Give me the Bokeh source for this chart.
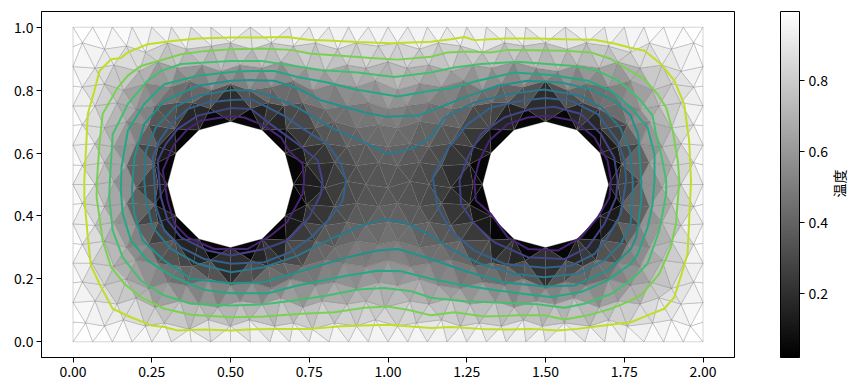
import numpy as np
from bokeh.plotting import figure
from bokeh.layouts import row
from bokeh.models import ColumnDataSource, LinearColorMapper, ColorBar, FixedTicker, NumeralTickFormatter, Label, Range1d
from bokeh.palettes import Greys256
from bokeh.embed import file_html
from bokeh.resources import INLINE

# outer boundary nodes (temperature 1 on the outer wall)
edge_x = [0,.0625,.125,.1875,.25,.3125,.375,.4375,.5,.5625,.625,.6875,.75,.8125,.875,.9375,1,1.0625,1.125,1.1875,1.25,1.3125,1.375,1.4375,1.5,1.5625,1.625,1.6875,1.75,1.8125,1.875,1.9375,2]
side_y = [.0625,.125,.1875,.25,.3125,.375,.4375,.5,.5625,.625,.6875,.75,.8125,.875,.9375]
# hole nodes (temperature 0 on the hole wall)
hole_cx = [.5, 1.5]
hole_cy = .5
hole_r = .2
hole_dx = [0,.1,.1732,.2,.1732,.1,0,-.1,-.1732,-.2,-.1732,-.1]
hole_dy = [.2,.1732,.1,0,-.1,-.1732,-.2,-.1732,-.1,0,.1,.1732]
# dark ring of nodes round each hole
ring_dx = [.2415,.1768,.0647,-.0647,-.1768,-.2415,-.2415,-.1768,-.0647,.0647,.1768,.2415]
ring_dy = [.0647,.1768,.2415,.2415,.1768,.0647,-.0647,-.1768,-.2415,-.2415,-.1768,-.0647]
ring_t = [.13,.14,.15,.15,.14,.13,.13,.14,.15,.15,.14,.13]

# interior nodes, row by row
r01_x=[.04,.10,.16,.23,.29,.37,.43,.50,.56,.64,.70,.76,.83,.90,.96,1.03,1.09,1.17,1.23,1.29,1.36,1.43,1.49,1.56,1.64,1.70,1.76,1.84,1.90,1.96]
r01_y=[.06,.05,.07,.05,.06,.04,.07,.05,.07,.05,.06,.04,.06,.05,.07,.05,.06,.07,.05,.06,.05,.07,.05,.06,.05,.07,.05,.06,.07,.05]
r01_t=[.98,.96,.92,.89,.85,.84,.81,.83,.81,.84,.84,.87,.86,.88,.86,.88,.87,.85,.86,.84,.85,.81,.83,.82,.84,.84,.89,.92,.94,.98]
r02_x=[.07,.14,.20,.26,.34,.40,.46,.53,.60,.66,.73,.79,.87,.93,.99,1.07,1.13,1.20,1.26,1.34,1.40,1.47,1.53,1.59,1.67,1.73,1.80,1.86,1.93]
r02_y=[.13,.12,.14,.11,.13,.12,.11,.13,.12,.14,.11,.13,.12,.13,.11,.13,.12,.14,.12,.13,.11,.13,.12,.14,.11,.13,.12,.14,.12]
r02_t=[.91,.87,.79,.73,.68,.66,.66,.65,.66,.66,.71,.71,.73,.75,.77,.75,.73,.70,.70,.68,.67,.65,.65,.64,.69,.72,.80,.86,.91]
r03_x=[.03,.10,.17,.24,.30,.36,.43,.50,.57,.63,.69,.77,.83,.90,.97,1.03,1.10,1.16,1.23,1.30,1.37,1.43,1.50,1.56,1.63,1.70,1.77,1.83,1.90,1.97]
r03_y=[.19,.18,.20,.17,.19,.18,.20,.18,.19,.17,.20,.18,.19,.17,.19,.18,.20,.18,.17,.19,.18,.20,.17,.19,.18,.20,.18,.19,.17,.19]
r03_t=[.93,.83,.69,.60,.50,.47,.43,.45,.44,.48,.49,.55,.58,.64,.65,.66,.61,.59,.56,.50,.47,.43,.46,.44,.47,.49,.59,.70,.85,.93]
r04_x=[.06,.13,.20,.27,.34,.38,.62,.67,.73,.80,.86,.93,1.00,1.07,1.13,1.20,1.27,1.33,1.38,1.62,1.66,1.73,1.80,1.87,1.94]
r04_y=[.25,.24,.26,.25,.24,.24,.24,.25,.24,.26,.25,.24,.26,.24,.25,.26,.24,.25,.24,.24,.26,.25,.24,.26,.25]
r04_t=[.87,.76,.62,.50,.38,.35,.34,.36,.41,.45,.50,.52,.54,.53,.49,.45,.42,.36,.35,.35,.38,.50,.62,.76,.87]
r05_x=[.03,.10,.17,.24,.77,.83,.90,.97,1.03,1.10,1.17,1.23,1.76,1.83,1.90,1.97]
r05_y=[.31,.32,.30,.31,.32,.30,.32,.31,.32,.30,.31,.32,.31,.30,.32,.31]
r05_t=[.96,.78,.63,.43,.37,.41,.46,.46,.48,.43,.41,.37,.43,.63,.78,.96]
r06_x=[.07,.13,.20,.27,.73,.80,.87,.93,1.00,1.07,1.13,1.20,1.27,1.73,1.80,1.87,1.93]
r06_y=[.37,.38,.37,.38,.38,.37,.38,.37,.38,.37,.38,.37,.38,.38,.37,.38,.37]
r06_t=[.84,.67,.50,.25,.22,.29,.36,.40,.42,.40,.36,.29,.22,.25,.50,.67,.84]
r07_x=[.03,.10,.17,.83,.90,.97,1.03,1.10,1.17,1.83,1.90,1.97]
r07_y=[.44,.43,.44,.43,.44,.43,.44,.43,.44,.43,.44,.43]
r07_t=[.92,.75,.57,.28,.33,.37,.37,.33,.28,.57,.75,.92]
r08_x=[.07,.13,.20,.27,.73,.80,.87,.93,1.00,1.07,1.13,1.20,1.27,1.73,1.80,1.87,1.93]
r08_y=[.50,.51,.49,.50,.50,.49,.51,.50,.49,.51,.50,.49,.50,.50,.51,.49,.50]
r08_t=[.82,.66,.48,.20,.10,.18,.30,.33,.34,.33,.30,.18,.10,.20,.48,.66,.82]
r09_x=[.03,.10,.17,.83,.90,.97,1.03,1.10,1.17,1.83,1.90,1.97]
r09_y=[.56,.57,.56,.57,.56,.57,.56,.57,.56,.57,.56,.57]
r09_t=[.92,.75,.57,.28,.33,.37,.37,.33,.28,.57,.75,.92]
r10_x=[.07,.13,.20,.27,.73,.80,.87,.93,1.00,1.07,1.13,1.20,1.27,1.73,1.80,1.87,1.93]
r10_y=[.63,.62,.63,.62,.62,.63,.62,.63,.62,.63,.62,.63,.62,.62,.63,.62,.63]
r10_t=[.84,.67,.50,.25,.22,.29,.36,.40,.42,.40,.36,.29,.22,.25,.50,.67,.84]
r11_x=[.03,.10,.17,.24,.77,.83,.90,.97,1.03,1.10,1.17,1.23,1.76,1.83,1.90,1.97]
r11_y=[.69,.68,.70,.69,.68,.70,.68,.69,.68,.70,.69,.68,.69,.70,.68,.69]
r11_t=[.96,.78,.63,.43,.35,.41,.43,.46,.46,.43,.41,.35,.43,.63,.78,.96]
r12_x=[.07,.14,.20,.26,.33,.38,.62,.67,.73,.80,.87,.94,1.00,1.06,1.13,1.20,1.27,1.33,1.38,1.62,1.67,1.74,1.80,1.86,1.93]
r12_y=[.75,.76,.74,.75,.76,.76,.76,.75,.76,.74,.75,.76,.74,.75,.76,.74,.75,.76,.76,.76,.74,.76,.74,.75,.76]
r12_t=[.87,.75,.63,.50,.38,.36,.34,.36,.41,.45,.49,.52,.55,.52,.49,.45,.41,.36,.34,.36,.38,.50,.63,.75,.87]
r13_x=[.03,.10,.16,.23,.31,.37,.44,.50,.56,.63,.70,.76,.83,.90,.96,1.03,1.10,1.17,1.24,1.30,1.36,1.43,1.50,1.57,1.63,1.70,1.77,1.84,1.90,1.97]
r13_y=[.81,.82,.80,.82,.81,.83,.80,.82,.80,.81,.83,.80,.82,.81,.83,.80,.82,.81,.83,.80,.82,.81,.83,.80,.82,.81,.83,.80,.82,.81]
r13_t=[.93,.82,.70,.57,.50,.44,.45,.43,.45,.46,.48,.55,.57,.62,.63,.67,.61,.58,.52,.52,.45,.44,.42,.45,.45,.50,.56,.71,.82,.93]
r14_x=[.07,.13,.21,.27,.33,.41,.47,.53,.60,.66,.74,.80,.87,.93,1.00,1.06,1.13,1.20,1.27,1.33,1.40,1.47,1.54,1.60,1.67,1.73,1.80,1.87,1.93]
r14_y=[.87,.88,.86,.89,.87,.88,.86,.88,.87,.89,.87,.86,.88,.87,.89,.87,.88,.86,.88,.87,.89,.87,.86,.88,.87,.89,.87,.88,.86]
r14_t=[.91,.87,.79,.74,.68,.66,.64,.65,.66,.70,.70,.70,.73,.75,.78,.75,.73,.70,.70,.68,.68,.65,.63,.66,.68,.74,.80,.87,.90]
r15_x=[.03,.10,.17,.23,.30,.36,.44,.50,.57,.63,.70,.77,.84,.90,.97,1.03,1.10,1.16,1.23,1.30,1.37,1.43,1.50,1.57,1.63,1.70,1.77,1.83,1.90,1.97]
r15_y=[.95,.93,.94,.92,.95,.93,.94,.95,.93,.95,.94,.95,.93,.95,.94,.95,.93,.95,.94,.92,.95,.94,.95,.93,.95,.94,.92,.95,.93,.95]
r15_t=[.98,.95,.92,.87,.87,.82,.82,.84,.81,.85,.84,.87,.85,.89,.87,.89,.86,.88,.85,.83,.85,.82,.84,.81,.85,.85,.87,.94,.94,.98]

# contour lines, level: [(x, y), ...]
level_10_a=[(.29,.512),(.285,.544),(.311,.607),(.322,.629),(.364,.676),(.406,.703),(.502,.718),(.544,.713),(.607,.687),(.66,.65),(.686,.607),(.729,.565),(.734,.512),(.729,.47),(.68,.38),(.628,.338),(.555,.295),(.502,.295),(.449,.295),(.364,.332),(.322,.375),(.3,.449)]
level_10_b=[(1.274,.512),(1.29,.576),(1.321,.639),(1.38,.692),(1.444,.713),(1.506,.719),(1.591,.703),(1.655,.65),(1.697,.576),(1.708,.512),(1.703,.459),(1.666,.396),(1.613,.332),(1.539,.29),(1.444,.295),(1.38,.332),(1.327,.406),(1.279,.449)]
level_20_a=[(.274,.512),(.269,.576),(.295,.629),(.332,.676),(.396,.719),(.502,.743),(.565,.74),(.627,.692),(.713,.629),(.777,.576),(.792,.512),(.787,.47),(.75,.396),(.681,.322),(.607,.295),(.502,.274),(.427,.29),(.343,.332),(.301,.385),(.279,.459)]
level_20_b=[(1.227,.512),(1.253,.586),(1.295,.66),(1.369,.713),(1.454,.74),(1.528,.747),(1.613,.724),(1.676,.66),(1.718,.586),(1.729,.512),(1.724,.459),(1.687,.375),(1.634,.3),(1.56,.263),(1.444,.269),(1.338,.316),(1.274,.375),(1.232,.438)]
level_30_a=[(.258,.512),(.253,.586),(.274,.639),(.311,.692),(.364,.74),(.428,.761),(.502,.769),(.565,.771),(.618,.745),(.671,.718),(.724,.681),(.808,.629),(.851,.565),(.867,.512),(.856,.449),(.819,.396),(.756,.332),(.69,.285),(.607,.253),(.502,.248),(.417,.263),(.343,.3),(.29,.353),(.263,.428)]
level_30_b=[(1.142,.523),(1.193,.618),(1.253,.692),(1.327,.745),(1.422,.766),(1.501,.775),(1.581,.766),(1.666,.724),(1.729,.639),(1.751,.576),(1.756,.512),(1.739,.406),(1.697,.332),(1.655,.279),(1.581,.242),(1.496,.235),(1.369,.248),(1.274,.29),(1.2,.353),(1.158,.428)]
level_40=[(.226,.512),(.232,.607),(.263,.681),(.322,.745),(.396,.782),(.502,.8),(.565,.8),(.639,.777),(.713,.745),(.819,.681),(.925,.634),(.999,.597),(1.073,.613),(1.136,.65),(1.179,.712),(1.274,.761),(1.38,.787),(1.496,.802),(1.613,.782),(1.678,.745),(1.737,.681),(1.768,.607),(1.777,.512),(1.777,.48),(1.77,.375),(1.739,.311),(1.686,.258),(1.602,.216),(1.496,.205),(1.401,.216),(1.295,.247),(1.2,.295),(1.137,.338),(1.052,.38),(.978,.39),(.904,.364),(.819,.327),(.713,.274),(.607,.237),(.502,.221),(.396,.248),(.311,.295),(.253,.364),(.232,.449)]
level_50=[(.189,.512),(.195,.586),(.226,.692),(.29,.766),(.396,.814),(.502,.83),(.565,.832),(.639,.83),(.713,.806),(.787,.768),(.925,.729),(.999,.715),(1.094,.719),(1.136,.734),(1.242,.777),(1.348,.814),(1.443,.83),(1.549,.824),(1.644,.803),(1.719,.766),(1.77,.72),(1.794,.66),(1.804,.512),(1.804,.449),(1.788,.332),(1.771,.295),(1.697,.226),(1.592,.179),(1.496,.176),(1.369,.189),(1.242,.226),(1.137,.263),(1.031,.295),(.967,.29),(.872,.269),(.713,.221),(.607,.189),(.502,.186),(.375,.2),(.29,.258),(.221,.322),(.195,.406),(.187,.48)]
level_60=[(.154,.554),(.174,.671),(.226,.756),(.29,.819),(.396,.846),(.502,.858),(.565,.861),(.639,.861),(.713,.842),(.808,.824),(.893,.803),(1.031,.78),(1.136,.798),(1.2,.806),(1.285,.83),(1.401,.856),(1.517,.848),(1.634,.83),(1.708,.798),(1.77,.745),(1.824,.681),(1.846,.597),(1.846,.512),(1.84,.438),(1.824,.364),(1.793,.279),(1.771,.248),(1.697,.195),(1.613,.158),(1.517,.142),(1.433,.152),(1.348,.163),(1.242,.179),(1.137,.2),(1.041,.224),(.967,.226),(.872,.211),(.713,.179),(.62,.154),(.502,.154),(.417,.165),(.322,.205),(.237,.258),(.184,.322),(.158,.406),(.152,.48)]
level_70=[(.117,.512),(.126,.66),(.137,.681),(.174,.756),(.237,.83),(.279,.861),(.343,.883),(.417,.888),(.502,.893),(.597,.893),(.703,.877),(.787,.864),(.904,.856),(1.02,.842),(1.136,.856),(1.211,.872),(1.295,.883),(1.411,.89),(1.496,.884),(1.592,.877),(1.666,.861),(1.73,.83),(1.77,.798),(1.803,.766),(1.84,.719),(1.851,.66),(1.867,.597),(1.883,.512),(1.883,.47),(1.861,.353),(1.824,.248),(1.771,.195),(1.708,.152),(1.623,.121),(1.56,.108),(1.475,.119),(1.369,.124),(1.242,.129),(1.137,.14),(1.073,.161),(.988,.171),(.904,.166),(.808,.147),(.703,.131),(.607,.119),(.502,.115),(.375,.121),(.29,.147),(.216,.194),(.158,.268),(.126,.354),(.115,.459)]
level_80=[(.076,.512),(.084,.629),(.094,.724),(.142,.808),(.174,.846),(.216,.877),(.29,.898),(.343,.914),(.417,.924),(.502,.93),(.597,.932),(.692,.928),(.756,.916),(.851,.909),(.946,.902),(1.031,.897),(1.136,.906),(1.19,.92),(1.253,.923),(1.327,.92),(1.38,.928),(1.454,.927),(1.56,.925),(1.644,.92),(1.708,.899),(1.77,.861),(1.814,.835),(1.856,.787),(1.883,.745),(1.904,.67),(1.92,.576),(1.925,.512),(1.914,.375),(1.898,.301),(1.861,.216),(1.808,.152),(1.771,.131),(1.708,.105),(1.634,.084),(1.56,.071),(1.496,.084),(1.412,.084),(1.306,.08),(1.211,.094),(1.137,.084),(1.062,.102),(.999,.112),(.925,.108),(.83,.094),(.724,.089),(.607,.08),(.502,.078),(.375,.086),(.29,.105),(.216,.142),(.163,.184),(.121,.237),(.094,.322),(.084,.396),(.075,.459)]
level_90=[(.036,.512),(.041,.607),(.047,.724),(.068,.798),(.084,.861),(.121,.898),(.152,.902),(.174,.92),(.237,.946),(.322,.957),(.396,.964),(.502,.967),(.586,.967),(.681,.969),(.745,.96),(.808,.958),(.904,.953),(1.01,.949),(1.136,.954),(1.2,.962),(1.242,.969),(1.274,.959),(1.369,.964),(1.475,.964),(1.56,.962),(1.655,.96),(1.719,.948),(1.77,.935),(1.814,.925),(1.867,.883),(1.909,.83),(1.94,.756),(1.956,.639),(1.962,.512),(1.956,.385),(1.951,.279),(1.935,.226),(1.909,.142),(1.877,.105),(1.824,.084),(1.771,.062),(1.665,.049),(1.602,.041),(1.539,.036),(1.454,.041),(1.38,.039),(1.295,.041),(1.2,.047),(1.137,.044),(.999,.054),(.925,.052),(.851,.049),(.756,.041),(.65,.041),(.554,.039),(.502,.036),(.417,.039),(.332,.036),(.29,.047),(.248,.052),(.184,.078),(.126,.105),(.089,.174),(.057,.242),(.047,.332),(.036,.459)]
contours = [(level_10_a,"#482475"),(level_10_b,"#482475"),(level_20_a,"#414487"),(level_20_b,"#414487"),
            (level_30_a,"#355f8d"),(level_30_b,"#355f8d"),(level_40,"#2a788e"),(level_50,"#21918c"),
            (level_60,"#22a884"),(level_70,"#44bf70"),(level_80,"#7ad151"),(level_90,"#bddf26")]

x_ticks = [0,.25,.5,.75,1,1.25,1.5,1.75,2]
y_ticks = [0,.2,.4,.6,.8,1]
cb_ticks = [.2,.4,.6,.8]
t_min, t_max = .02, .996

# assemble the node table
nx, ny, nt = [], [], []
for x in edge_x:
    nx += [x, x]; ny += [0, 1]; nt += [1, 1]
for y in side_y:
    nx += [0, 2]; ny += [y, y]; nt += [1, 1]
for cx in hole_cx:
    for dx, dy in zip(hole_dx, hole_dy):
        nx.append(cx + dx); ny.append(hole_cy + dy); nt.append(0)
    for dx, dy, t in zip(ring_dx, ring_dy, ring_t):
        nx.append(cx + dx); ny.append(hole_cy + dy); nt.append(t)
rows = [(r01_x,r01_y,r01_t),(r02_x,r02_y,r02_t),(r03_x,r03_y,r03_t),(r04_x,r04_y,r04_t),(r05_x,r05_y,r05_t),
        (r06_x,r06_y,r06_t),(r07_x,r07_y,r07_t),(r08_x,r08_y,r08_t),(r09_x,r09_y,r09_t),(r10_x,r10_y,r10_t),
        (r11_x,r11_y,r11_t),(r12_x,r12_y,r12_t),(r13_x,r13_y,r13_t),(r14_x,r14_y,r14_t),(r15_x,r15_y,r15_t)]
for a, b, c in rows:
    nx += a; ny += b; nt += c


def delaunay(xs, ys):
    """Bowyer-Watson triangulation of the nodes."""
    px = list(xs) + [-100.0, 102.0, 1.0]
    py = list(ys) + [-100.0, -100.0, 200.0]
    n = len(xs)

    def make(a, b, c):
        ax, ay, bx, by, cx, cy = px[a], py[a], px[b], py[b], px[c], py[c]
        d = 2 * (ax * (by - cy) + bx * (cy - ay) + cx * (ay - by))
        if abs(d) < 1e-12:
            return None
        s1, s2, s3 = ax * ax + ay * ay, bx * bx + by * by, cx * cx + cy * cy
        ux = (s1 * (by - cy) + s2 * (cy - ay) + s3 * (ay - by)) / d
        uy = (s1 * (cx - bx) + s2 * (ax - cx) + s3 * (bx - ax)) / d
        return (a, b, c, ux, uy, (ax - ux) ** 2 + (ay - uy) ** 2)

    tris = [make(n, n + 1, n + 2)]
    for i in range(n):
        x, y = px[i], py[i]
        keep, edges = [], {}
        for t in tris:
            if (x - t[3]) ** 2 + (y - t[4]) ** 2 < t[5] - 1e-10:
                for e in ((t[0], t[1]), (t[1], t[2]), (t[2], t[0])):
                    k = (min(e), max(e))
                    edges[k] = edges.get(k, 0) + 1
            else:
                keep.append(t)
        for (a, b), count in edges.items():
            if count == 1:
                t = make(a, b, i)
                if t is not None:
                    keep.append(t)
        tris = keep
    return [t[:3] for t in tris if max(t[:3]) < n]


tri = delaunay(nx, ny)
xs, ys, tv = [], [], []
for a, b, c in tri:
    gx = (nx[a] + nx[b] + nx[c]) / 3
    gy = (ny[a] + ny[b] + ny[c]) / 3
    if any((gx - cx) ** 2 + (gy - hole_cy) ** 2 < hole_r ** 2 for cx in hole_cx):
        continue
    xs.append([nx[a], nx[b], nx[c]])
    ys.append([ny[a], ny[b], ny[c]])
    tv.append((nt[a] + nt[b] + nt[c]) / 3)

mapper = LinearColorMapper(palette=Greys256, low=t_min, high=t_max)
FONT = "Noto Sans CJK JP"

p = figure(frame_width=693, frame_height=346, min_border_left=41, min_border_top=11,
           min_border_right=96, min_border_bottom=28, output_backend="svg", toolbar_location=None,
           x_range=Range1d(-.1, 2.1), y_range=Range1d(-.05, 1.05))
p.grid.visible = False
p.outline_line_color = "black"
p.outline_line_width = 1
p.background_fill_color = "white"
p.patches(xs="xs", ys="ys", source=ColumnDataSource(dict(xs=xs, ys=ys, t=tv)),
          fill_color={"field": "t", "transform": mapper}, line_color="#666666",
          line_alpha=.45, line_width=.6)
for pts, col in contours:
    closed = pts + pts[:1]
    p.line([q[0] for q in closed], [q[1] for q in closed], line_color=col, line_width=2)

for ax, ticks, fmt in ((p.xaxis[0], x_ticks, "0.00"), (p.yaxis[0], y_ticks, "0.0")):
    ax.ticker = FixedTicker(ticks=ticks)
    ax.formatter = NumeralTickFormatter(format=fmt)
    ax.minor_tick_line_color = None
    ax.major_tick_in = 0
    ax.major_tick_out = 5
    ax.major_label_text_font = FONT
    ax.major_label_text_font_size = "14px"
    ax.major_label_text_color = "black"
    ax.major_label_standoff = 3
    ax.axis_line_color = "black"
    ax.major_tick_line_color = "black"

cb = ColorBar(color_mapper=mapper, location=(739, 0), width=19, height=346, padding=0, margin=0,
              ticker=FixedTicker(ticks=cb_ticks), formatter=NumeralTickFormatter(format="0.0"),
              major_tick_in=0, major_tick_out=5, major_tick_line_color="black", minor_tick_line_color=None,
              bar_line_color="black", bar_line_width=1, label_standoff=4,
              major_label_text_font=FONT, major_label_text_font_size="14px", major_label_text_color="black",
              background_fill_alpha=0)
p.add_layout(cb)

# a narrow figure beside the plot carries the colour bar's rotated label
side = figure(frame_width=22, frame_height=346, min_border_left=0, min_border_right=0, min_border_top=11,
              min_border_bottom=28, output_backend="svg", toolbar_location=None,
              x_axis_location=None, y_axis_location=None, outline_line_color=None,
              x_range=Range1d(0, 1), y_range=Range1d(0, 1))
side.grid.visible = False
side.add_layout(Label(x=8, y=174, x_units="screen", y_units="screen", text="温度", angle=90, angle_units="deg",
                      text_font=FONT, text_font_size="14px", text_align="center", text_baseline="middle",
                      text_color="black"))

layout = row(p, side, spacing=0)
open("out.html", "w").write(file_html(layout, INLINE))
